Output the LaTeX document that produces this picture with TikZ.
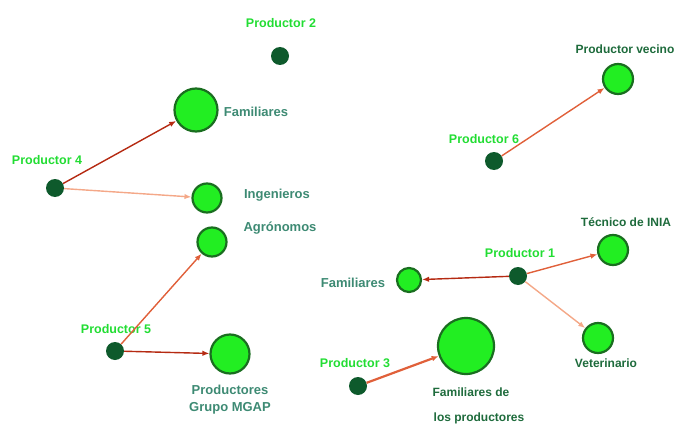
\documentclass[tikz,border=0pt]{standalone}
\usepackage{fontspec}
\setmainfont{Liberation Sans}
\usetikzlibrary{arrows.meta}
\definecolor{prodtxt}{HTML}{22DD33}
\definecolor{tealtxt}{HTML}{3D8A73}
\definecolor{dktxt}{HTML}{1E6B3C}
\definecolor{dkfill}{HTML}{0E5A2C}
\definecolor{gfill}{HTML}{22EE22}
\definecolor{gdraw}{HTML}{1A6E20}
\definecolor{estrong}{HTML}{B52A12}
\definecolor{emed}{HTML}{E0603A}
\definecolor{elight}{HTML}{F4A888}
\tikzset{
  prod/.style={circle,fill=dkfill,inner sep=0pt,minimum size=18pt},
  gnode/.style={circle,fill=gfill,draw=gdraw,line width=2.2pt,inner sep=0pt},
  plab/.style={text=prodtxt,font=\bfseries\fontsize{12.5}{14}\selectfont},
  tlab/.style={text=tealtxt,font=\bfseries\fontsize{13}{15}\selectfont},
  dlab/.style={text=dktxt,font=\bfseries\fontsize{12}{14}\selectfont},
  edge/.style={line width=1.4pt,-{Latex[length=7pt,width=5.5pt]}},
  strong/.style={edge,draw=estrong,fill=estrong},
  med/.style={edge,draw=emed,fill=emed},
  light/.style={edge,draw=elight,fill=elight}
}
\begin{document}
\begin{tikzpicture}[x=1pt,y=-1pt]
\useasboundingbox (0,0) rectangle (677,425);
% producers
\node[prod] (p2) at (280,56) {};
\node[prod] (p4) at (55,188) {};
\node[prod] (p5) at (115,351) {};
\node[prod] (p6) at (494,161) {};
\node[prod] (p1) at (518,276) {};
\node[prod] (p3) at (358,386) {};
\node[plab] (lp2) at (281,23) {Productor 2};
\node[plab] (lp4) at (47,160) {Productor 4};
\node[plab] (lp5) at (116,329) {Productor 5};
\node[plab] (lp6) at (484,139) {Productor 6};
\node[plab] (lp1) at (520,253) {Productor 1};
\node[plab] (lp3) at (355,363) {Productor 3};
% contacts
\node[gnode,minimum size=43pt] (fam1) at (196,110) {};
\node[gnode,minimum size=29pt] (ing) at (207,198) {};
\node[gnode,minimum size=29pt] (agr) at (212,242) {};
\node[gnode,minimum size=39pt] (mgap) at (230,354) {};
\node[gnode,minimum size=30pt] (vec) at (618,79) {};
\node[gnode,minimum size=30pt] (tec) at (613,250) {};
\node[gnode,minimum size=24pt] (fam2) at (409,280) {};
\node[gnode,minimum size=30pt] (vet) at (598,338) {};
\node[gnode,minimum size=56pt] (famp) at (466,346) {};
\node[tlab] (lfam1) at (256,112) {Familiares};
\node[tlab] (ling) at (277,195) {Ingenieros};
\node[tlab] (lagr) at (280,228) {Agrónomos};
\node[tlab] (lmgap1) at (230,390) {Productores};
\node[tlab] (lmgap2) at (230,408) {Grupo MGAP};
\node[tlab] (lfam2) at (353,283) {Familiares};
\node[dlab] (lvec) at (625,49) {Productor vecino};
\node[dlab] (ltec) at (626,222) {Técnico de INIA};
\node[dlab] (lvet) at (606,363) {Veterinario};
\node[dlab] (lfamp1) at (471,392) {Familiares de};
\node[dlab] (lfamp2) at (479,418) {los productores};
% edges
\draw[strong] (p4) -- (fam1);
\draw[light] (p4) -- (ing);
\draw[med] (p5) -- (agr);
\draw[strong] (p5) -- (mgap);
\draw[med] (p6) -- (vec);
\draw[strong] (p1) -- (fam2);
\draw[med] (p1) -- (tec);
\draw[light] (p1) -- (vet);
\draw[med,line width=2.2pt] (p3) -- (famp);
\end{tikzpicture}
\end{document}
